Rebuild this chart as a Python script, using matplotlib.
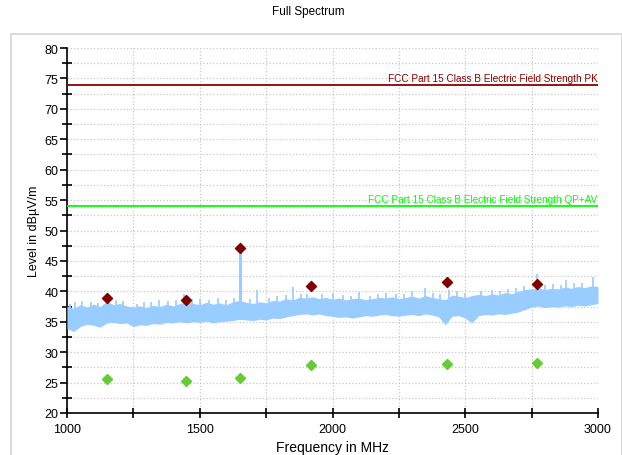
import numpy as np
import matplotlib.pyplot as plt
from matplotlib.ticker import MultipleLocator
from matplotlib.patches import Rectangle

plt.rcParams['font.family'] = ['Liberation Sans', 'DejaVu Sans']

# Spectrum trace envelope (dBuV/m), 25 MHz steps
freq_mhz = list(range(1000, 3001, 25))
trace_hi = [37.6, 37.2, 37.8, 37.4, 37.9, 37.5, 38.4, 37.8, 38.0, 37.6,
            37.4, 37.6, 37.3, 37.7, 37.5, 37.9, 37.6, 38.0, 38.3, 38.0,
            37.8, 38.2, 37.9, 38.1, 37.8, 38.3, 38.5, 38.2, 38.0, 38.3,
            38.1, 38.5, 38.4, 38.8, 38.6, 39.0, 38.9, 39.1, 38.8, 39.0,
            38.7, 38.9, 38.6, 38.8, 38.9, 38.6, 38.8, 39.0, 38.9, 39.1,
            38.8, 39.0, 39.2, 38.9, 39.3, 39.0, 38.8, 38.6, 39.4, 39.2,
            39.0, 39.3, 39.5, 39.3, 39.6, 39.4, 39.8, 39.6, 40.0, 40.3,
            40.4, 40.6, 40.3, 40.5, 40.4, 40.7, 40.5, 40.8, 40.6, 40.9, 40.8]
trace_lo = [33.9, 33.4, 34.2, 34.6, 34.4, 34.1, 34.8, 34.9, 34.7, 34.8,
            34.2, 34.5, 34.4, 34.7, 34.6, 34.9, 34.8, 35.0, 34.8, 35.0,
            34.9, 35.1, 34.8, 35.0, 35.1, 35.2, 35.4, 35.3, 35.2, 35.4,
            35.3, 35.6, 35.5, 35.8, 36.0, 36.2, 36.3, 36.1, 36.3, 36.0,
            35.9, 35.7, 35.8, 35.6, 35.8, 36.0, 35.9, 36.1, 36.2, 36.0,
            35.9, 36.1, 36.2, 36.0, 36.3, 36.1, 35.8, 34.5, 35.9, 36.0,
            35.6, 34.8, 36.0, 36.2, 36.1, 36.3, 36.2, 36.4, 36.6, 37.0,
            37.4, 37.6, 37.3, 37.5, 37.4, 37.6, 37.5, 37.7, 37.6, 37.8, 38.0]

# Narrow peaks sticking out of the noise floor
spike_mhz = [1012, 1030, 1058, 1090, 1115, 1150, 1185, 1210, 1262, 1290,
             1318, 1345, 1380, 1410, 1440, 1470, 1500, 1535, 1570, 1600,
             1630, 1690, 1716, 1760, 1790, 1825, 1850, 1880, 1905, 1960,
             2000, 2040, 2070, 2100, 2140, 2170, 2200, 2240, 2270, 2300,
             2350, 2380, 2405, 2440, 2470, 2500, 2560, 2600, 2630, 2660,
             2690, 2720, 2770, 2800, 2830, 2860, 2880, 2910, 2940, 2980]
spike_db = [38.0, 38.2, 38.4, 38.3, 38.1, 38.8, 38.5, 38.4, 38.0, 38.3,
            38.2, 38.6, 38.4, 38.5, 39.6, 38.7, 38.8, 38.6, 38.9, 38.5,
            38.9, 38.7, 40.2, 38.9, 39.2, 39.4, 40.7, 39.5, 39.6, 39.5,
            39.8, 39.4, 39.3, 39.9, 39.3, 39.5, 39.8, 39.6, 39.5, 40.0,
            40.5, 39.8, 39.6, 40.3, 40.0, 39.8, 40.1, 40.3, 40.1, 40.4,
            40.5, 40.9, 42.8, 41.0, 41.2, 41.1, 41.8, 41.3, 41.4, 42.3]
carrier_mhz = 1650
carrier_db = 47.0

# Final measurement points
meas_mhz = [1150, 1450, 1650, 1920, 2430, 2770]
pk_db = [38.9, 38.5, 47.2, 40.8, 41.5, 41.2]
av_db = [25.6, 25.2, 25.7, 27.9, 28.0, 28.2]

# Limit lines
limit_pk = 74
limit_qpav = 54

fig = plt.figure(figsize=(6.22, 4.56), dpi=100)
fig.patches.append(Rectangle((11 / 622, -0.05), 611 / 622, 1.05 - 35 / 456,
                             transform=fig.transFigure, fill=False,
                             edgecolor='#d4d4d4', lw=1.2))
ax = fig.add_axes([67 / 622, 42 / 456, 531 / 622, 365 / 456])

trace_color = '#99ccff'
ax.fill_between(freq_mhz, trace_lo, trace_hi, color=trace_color, lw=0, zorder=3)
spike_base = np.interp(spike_mhz, freq_mhz, trace_lo)
ax.vlines(spike_mhz, spike_base, spike_db, color=trace_color, lw=1.2, zorder=3)
carrier_base = np.interp(carrier_mhz, freq_mhz, trace_lo)
ax.vlines([carrier_mhz], carrier_base, [carrier_db], color=trace_color, lw=2.2, zorder=3)

ax.axhline(limit_pk, color='#8b0000', lw=1.3, zorder=4)
ax.axhline(limit_qpav, color='#00ff00', lw=1.3, zorder=4)
ax.text(2998, limit_pk + 0.3, 'FCC Part 15 Class B Electric Field Strength PK',
        ha='right', va='bottom', fontsize=7.2, color='#8b0000', zorder=5)
ax.text(2998, limit_qpav + 0.3, 'FCC Part 15 Class B Electric Field Strength QP+AV',
        ha='right', va='bottom', fontsize=7.2, color='#00ff00', zorder=5)

ax.scatter(meas_mhz, pk_db, marker='D', s=26, color='#800000', zorder=6)
ax.scatter(meas_mhz, av_db, marker='D', s=26, color='#66cc33', zorder=6)

ax.set_xlim(1000, 3000)
ax.set_ylim(20, 80)
ax.xaxis.set_major_locator(MultipleLocator(500))
ax.xaxis.set_minor_locator(MultipleLocator(250))
ax.yaxis.set_major_locator(MultipleLocator(5))
ax.yaxis.set_minor_locator(MultipleLocator(2.5))
ax.grid(True, which='both', color='#c8c8c8', ls=':', lw=0.9, zorder=0)
ax.set_axisbelow(True)

for side in ['top', 'right']:
    ax.spines[side].set_visible(False)
ax.spines['left'].set_linewidth(1.2)
ax.spines['bottom'].set_linewidth(1.2)
ax.tick_params(axis='y', which='major', direction='out', length=5, width=1.2,
               labelsize=9, pad=1)
ax.tick_params(axis='y', which='minor', direction='inout', length=7, width=1.2)
ax.tick_params(axis='x', which='both', direction='inout', length=7, width=1.2,
               labelsize=9, pad=4)

ax.set_xlabel('Frequency in MHz', fontsize=10, labelpad=3)
ax.set_ylabel('Level in dBµV/m', fontsize=9, labelpad=3)
fig.text(0.495, 0.973, 'Full Spectrum', ha='center', va='center', fontsize=8.5)

fig.savefig('out.png', dpi=100)
